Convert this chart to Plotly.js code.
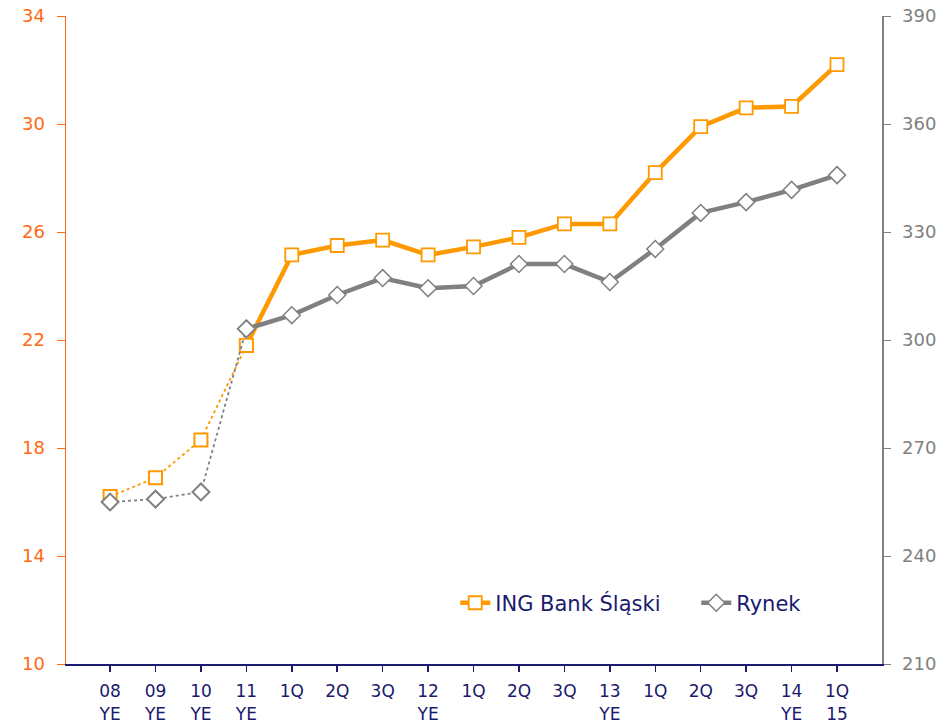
<!DOCTYPE html>
<html>
<head>
<meta charset="utf-8">
<script src="https://cdn.plot.ly/plotly-3.0.1.min.js"></script>
<style>html,body{margin:0;padding:0;background:#fff;}#chart{width:943px;height:722px;}</style>
</head>
<body>
<div id="chart"></div>
<script>
const tickLabels = ["08<br>YE","09<br>YE","10<br>YE","11<br>YE","1Q","2Q","3Q","12<br>YE","1Q","2Q","3Q","13<br>YE","1Q","2Q","3Q","14<br>YE","1Q<br>15"];
const ingValues = [16.2,16.9,18.3,21.8,25.15,25.5,25.7,25.15,25.45,25.8,26.3,26.3,28.2,29.9,30.6,30.65,32.2];
const rynekValues = [255,255.8,257.8,303.1,306.9,312.5,317.2,314.4,315,321.1,321.1,316.1,325.3,335.3,338.3,341.7,345.8];
const dottedCount = 4; // first points (year-ends 08-11) drawn dotted

const idx = tickLabels.map((_, i) => i);
const ORANGE = "#FF9900";
const GRAY = "#808080";
const NAVY = "#1a1a6e";
const FONT = "DejaVu Sans, Verdana, sans-serif";

function part(arr, from, to){ return arr.slice(from, to); }

const traces = [
  {x: part(idx,0,dottedCount), y: part(rynekValues,0,dottedCount), yaxis:"y2", mode:"lines+markers", showlegend:false,
   line:{color:GRAY, width:1.8, dash:"dot"},
   marker:{symbol:"diamond", size:13, color:"#fff", line:{color:GRAY, width:2}}},
  {x: part(idx,dottedCount-1), y: part(rynekValues,dottedCount-1), yaxis:"y2", mode:"lines+markers", name:"Rynek",
   line:{color:GRAY, width:4.5},
   marker:{symbol:"diamond", size:13, color:"#fff", line:{color:GRAY, width:1.5}}},
  {x: part(idx,0,dottedCount), y: part(ingValues,0,dottedCount), mode:"lines+markers", showlegend:false,
   line:{color:ORANGE, width:1.8, dash:"dot"},
   marker:{symbol:"square", size:13, color:"#fff", line:{color:ORANGE, width:2}}},
  {x: part(idx,dottedCount-1), y: part(ingValues,dottedCount-1), mode:"lines+markers", name:"ING Bank Śląski",
   line:{color:ORANGE, width:4.5},
   marker:{symbol:"square", size:13, color:"#fff", line:{color:ORANGE, width:1.8}}}
];

const layout = {
  width:943, height:722,
  margin:{l:66, r:61, t:16, b:58, autoexpand:false},
  paper_bgcolor:"#fff", plot_bgcolor:"#fff",
  font:{family:FONT, color:NAVY},
  showlegend:true,
  legend:{orientation:"h", x:0.477, y:0.094, xanchor:"left", yanchor:"middle", entrywidth:196,
          font:{size:21, color:NAVY, family:FONT}, traceorder:"reversed", bgcolor:"rgba(0,0,0,0)"},
  xaxis:{range:[-0.97,16.99], tickvals:idx, ticktext:tickLabels, showgrid:false, zeroline:false,
         showline:true, linecolor:NAVY, linewidth:2, ticks:"outside", ticklen:6, tickcolor:NAVY, tickwidth:1.5,
         ticklabelstandoff:5, tickfont:{size:17, color:NAVY, family:FONT}},
  yaxis:{range:[10,34], tickvals:[10,14,18,22,26,30,34], showgrid:false, zeroline:false,
         showline:true, linecolor:"#FF6A13", linewidth:1.5, ticks:"outside", ticklen:8, tickcolor:"#FF6A13",
         ticklabelstandoff:8, tickfont:{size:18, color:"#FF6A13", family:FONT}},
  yaxis2:{range:[210,390], tickvals:[210,240,270,300,330,360,390], overlaying:"y", side:"right", showgrid:false, zeroline:false,
          showline:true, linecolor:GRAY, linewidth:1.5, ticks:"outside", ticklen:7, tickcolor:GRAY,
          ticklabelstandoff:8, tickfont:{size:18, color:GRAY, family:FONT}}
};

Plotly.newPlot("chart", traces, layout, {displayModeBar:false, staticPlot:true});
</script>
</body>
</html>
